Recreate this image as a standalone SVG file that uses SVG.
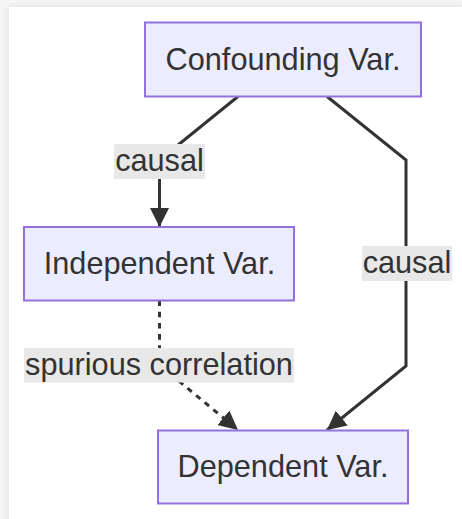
<svg xmlns="http://www.w3.org/2000/svg" width="462" height="519" viewBox="0 0 462 519">
  <defs>
    <linearGradient id="shL" x1="0" y1="0" x2="1" y2="0">
      <stop offset="0" stop-color="#f7f7f7"/>
      <stop offset="0.6" stop-color="#f0f0f0"/>
      <stop offset="1" stop-color="#e9e9e9"/>
    </linearGradient>
    <linearGradient id="shT" x1="0" y1="0" x2="0" y2="1">
      <stop offset="0" stop-color="#f7f7f7"/>
      <stop offset="0.6" stop-color="#f0f0f0"/>
      <stop offset="1" stop-color="#e9e9e9"/>
    </linearGradient>
    <marker id="arrow" viewBox="0 0 10 10" refX="10" refY="5" markerUnits="userSpaceOnUse" markerWidth="19" markerHeight="19" orient="auto">
      <path d="M0,0 L10,5 L0,10 z" fill="#333333"/>
    </marker>
    <style>
      .node rect { fill: #ECECFF; stroke: #9370DB; stroke-width: 2; }
      .node text, .label text { font-family: "Liberation Sans", Arial, sans-serif; font-size: 30.7px; fill: #333333; text-anchor: middle; }
      .label rect { fill: #e8e8e8; }
      .edge { fill: none; stroke: #333333; stroke-width: 3; stroke-linejoin: miter; }
      .dotted { stroke-dasharray: 5.6 5.6; }
    </style>
  </defs>
  <rect x="0" y="0" width="462" height="519" fill="#ffffff"/>
  <rect x="0" y="0" width="9" height="519" fill="url(#shL)"/>
  <rect x="0" y="0" width="462" height="7" fill="url(#shT)"/>
  <rect x="0" y="0" width="9" height="7" fill="#f5f5f5"/>

  <g id="connectors">
    <path class="edge" d="M238,96.5 L159.5,160 L159.5,227" marker-end="url(#arrow)"/>
    <path class="edge" d="M327,96.5 L406,160 L406,366 L327,430" marker-end="url(#arrow)"/>
    <path class="edge dotted" d="M159.5,300.5 L159.5,365 L238,430" marker-end="url(#arrow)"/>
  </g>

  <g id="label-causal-1" class="label">
    <rect x="114" y="144" width="91" height="35"/>
    <text x="159.5" y="171">causal</text>
  </g>
  <g id="label-causal-2" class="label">
    <rect x="362" y="246" width="90" height="35"/>
    <text x="407" y="273">causal</text>
  </g>
  <g id="label-spurious" class="label">
    <rect x="24" y="348" width="270" height="34.5"/>
    <text x="159" y="374.5">spurious correlation</text>
  </g>

  <g id="node-confounding" class="node">
    <rect x="145" y="22.5" width="276" height="74"/>
    <text x="283" y="70">Confounding Var.</text>
  </g>
  <g id="node-independent" class="node">
    <rect x="24" y="227" width="270" height="73.5"/>
    <text x="159.5" y="273.5">Independent Var.</text>
  </g>
  <g id="node-dependent" class="node">
    <rect x="158" y="430.5" width="250" height="73"/>
    <text x="283" y="477">Dependent Var.</text>
  </g>
</svg>
